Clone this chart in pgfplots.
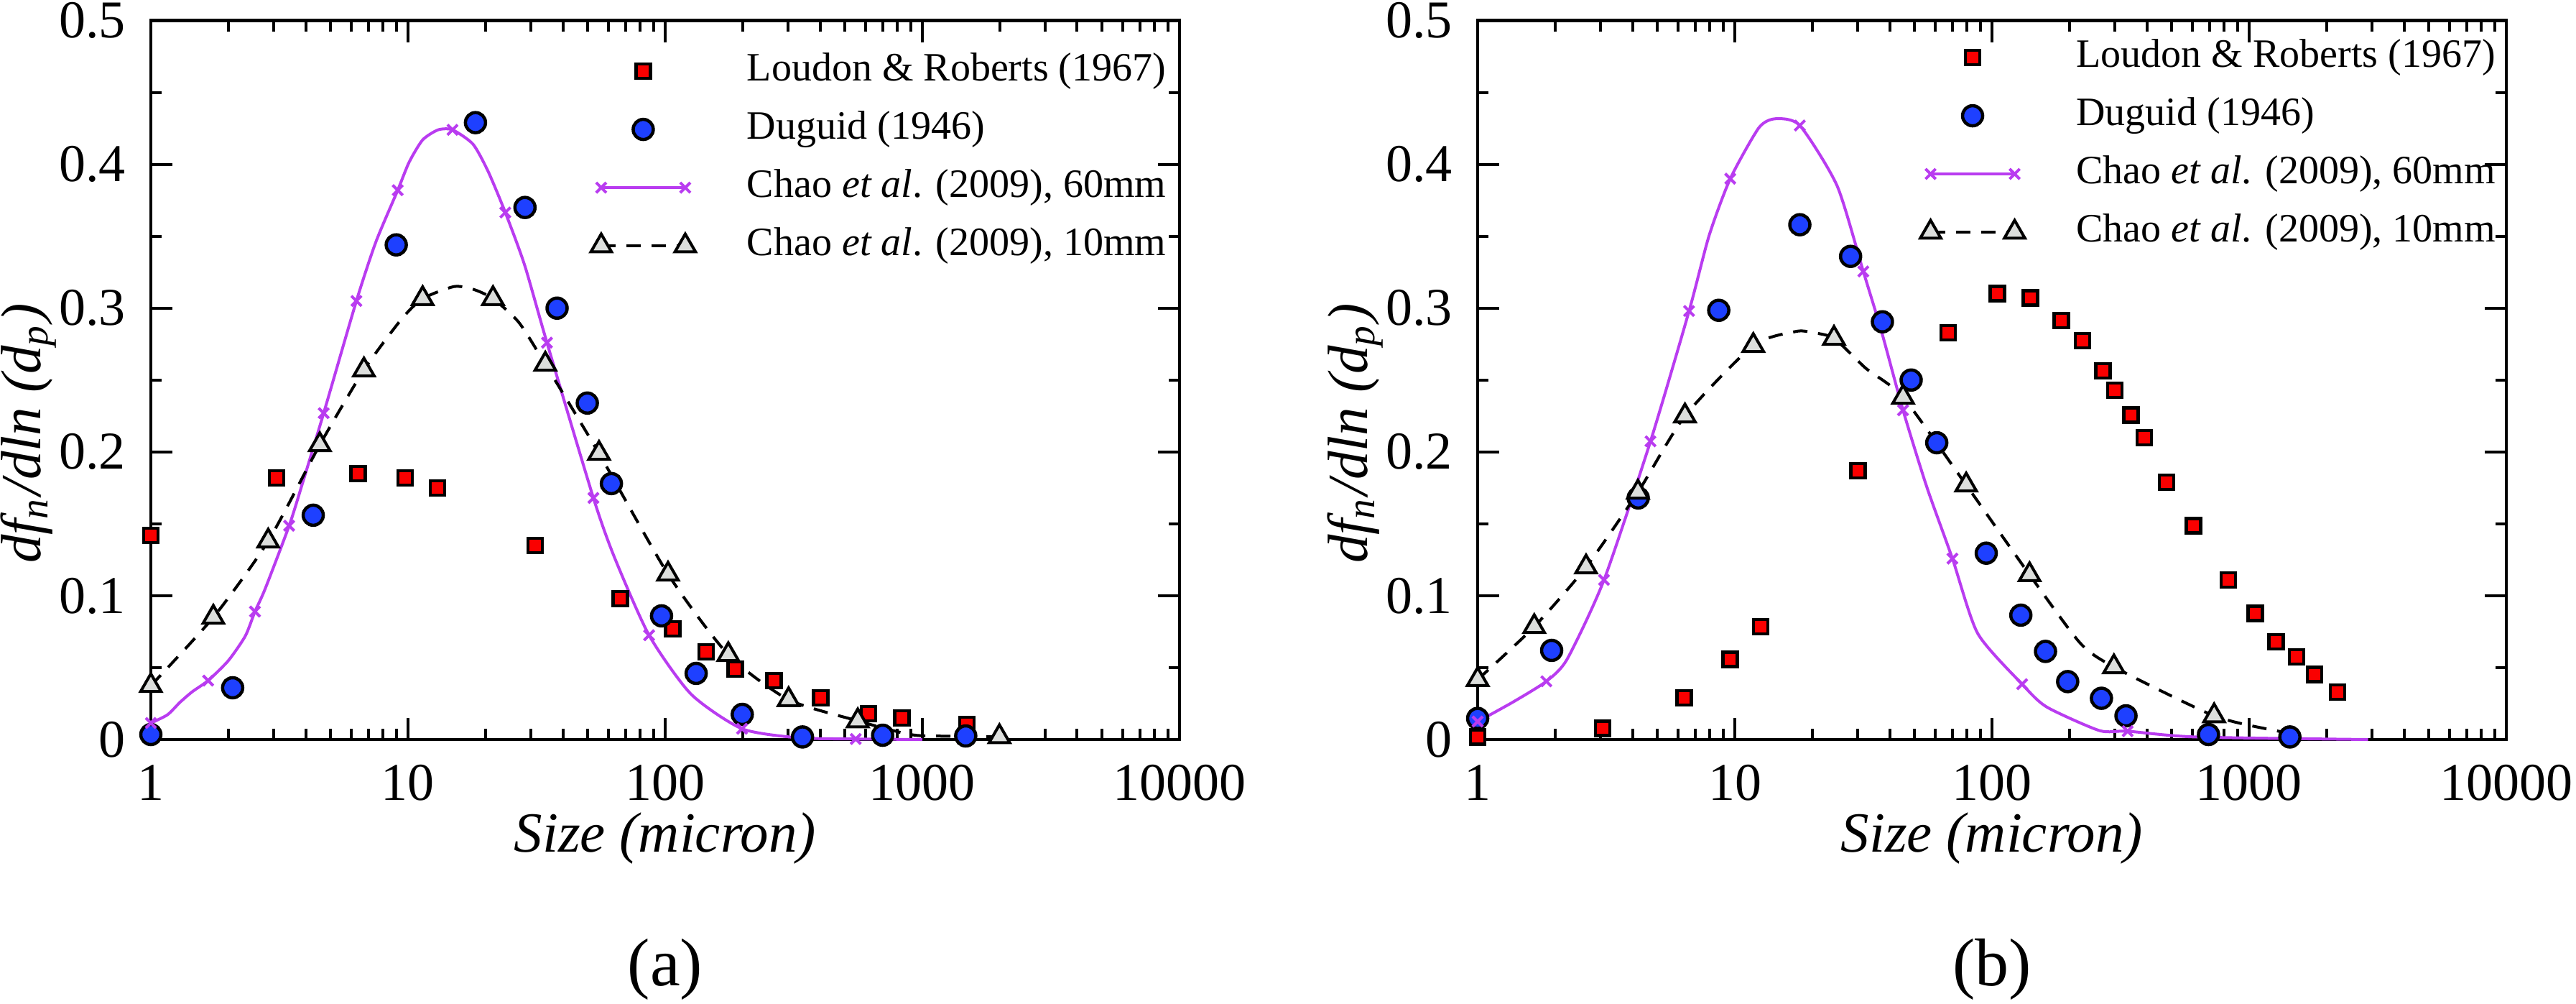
\documentclass[border=0pt]{standalone}
\usepackage{fontspec}
\setmainfont{Liberation Serif}
\newfontfamily\tms{Liberation Serif}
\usepackage{pgfplots}
\pgfplotsset{compat=1.18}
\definecolor{mred}{RGB}{250,0,0}
\definecolor{mblue}{RGB}{30,64,255}
\definecolor{mpurple}{RGB}{185,60,240}
\definecolor{mgrey}{RGB}{220,222,220}

\begin{document}
\begin{tikzpicture}
% ---------------- (a) ----------------
\begin{semilogxaxis}[at={(21.0pt,36.7pt)}, anchor=south west,
  scale only axis, width=143.2pt, height=100.05pt,
  xmin=1, xmax=10000, ymin=0, ymax=0.5,
  xtick={1,10,100,1000,10000}, xticklabels={1,10,100,1000,10000},
  ytick={0,0.1,0.2,0.3,0.4,0.5}, yticklabels={0,0.1,0.2,0.3,0.4,0.5},
  minor ytick={0.05,0.15,0.25,0.35,0.45},
  tick align=inside,
  major tick length=3pt, minor tick length=1.5pt,
  tick style={black, line width=0.4pt},
  axis line style={line width=0.45pt},
  xticklabel style={font=\tms\fontsize{7.4}{8}\selectfont},
  yticklabel style={font=\tms\fontsize{7.4}{8}\selectfont},
  xlabel style={font=\tms\fontsize{7.9}{9}\selectfont\itshape, at={(axis description cs:0.5,-0.137)}, anchor=center},
  ylabel style={font=\tms\fontsize{7.9}{9}\selectfont\itshape, at={(axis description cs:-0.119,0.426)}, anchor=center},
  xlabel={Size (micron)},
  ylabel={df\textsubscript{n}/dln (d\textsubscript{p})},
  clip=false,
  legend cell align=left,
  legend style={draw=none, fill=none, inner sep=0pt, outer sep=0pt,
    font=\tms\fontsize{5.6}{6.5}\selectfont, row sep=2.9pt, column sep=6.95pt,
    nodes={inner sep=0pt, text height=3.9pt, text depth=1.3pt},
    at={(axis description cs:0.4263,0.9555)}, anchor=north west}]
\addplot[mpurple, line width=0.4pt, smooth, tension=0.4, no marks, forget plot] coordinates {(1,0.0115) (1.16,0.0172) (1.3,0.026) (1.45,0.0333) (1.67,0.041) (2.0,0.0548) (2.33,0.072) (2.54,0.089) (2.78,0.1046) (3.45,0.1487) (3.87,0.177) (4.7,0.227) (6.3,0.305) (7.5,0.346) (9.12,0.382) (10.1,0.4015) (11.4,0.417) (13.1,0.424) (14.9,0.424) (17.9,0.414) (20.5,0.395) (23.9,0.3665) (28.4,0.33) (34.7,0.276) (52.6,0.168) (63.4,0.127) (86.6,0.0725) (126,0.0316) (199,0.0075) (330,0.0012) (551,0.0004) (1000,0)};
\addplot[black, line width=0.4pt, dash pattern=on 2pt off 1.5pt, smooth, tension=0.4, no marks, forget plot] coordinates {(1,0.0375) (1.75,0.085) (2.86,0.138) (4.54,0.205) (6.74,0.257) (9.4,0.292) (11.4,0.3066) (15.1,0.315) (18,0.313) (21.4,0.3066) (27,0.29) (34.2,0.261) (55.3,0.199) (102.6,0.115) (176,0.059) (302,0.0277) (561,0.013) (787,0.0058) (988,0.0027) (1995,0.002)};
\addplot[only marks, mark=square*, mark size=1.0pt, mark options={fill=mred, draw=black, line width=0.45pt},
   legend image code/.code={\path[draw=none] (-1.65pt,0pt) (13.35pt,0pt); \draw[only marks, mark=square*, mark size=1.0pt, mark options={fill=mred, draw=black, line width=0.45pt}] plot coordinates {(5.85pt,0pt)};}]
   coordinates {(1,0.142) (3.08,0.182) (6.4,0.185) (9.75,0.182) (13.0,0.175) (31.2,0.135) (67,0.098) (107,0.077) (144.5,0.061) (187,0.049) (265,0.041) (403,0.029) (618,0.018) (832,0.015) (1490,0.0105)};
\addlegendentry{Loudon \& Roberts (1967)}
\addplot[only marks, mark=*, mark size=1.4pt, mark options={fill=mblue, draw=black, line width=0.45pt},
   legend image code/.code={\path[draw=none] (-1.65pt,0pt) (13.35pt,0pt); \draw[only marks, mark=*, mark size=1.4pt, mark options={fill=mblue, draw=black, line width=0.45pt}] plot coordinates {(5.85pt,0pt)};}]
   coordinates {(1,0.0035) (2.08,0.036) (4.28,0.156) (9.0,0.344) (18.3,0.429) (28.5,0.370) (38,0.300) (49.8,0.234) (61.8,0.178) (96.8,0.086) (132,0.046) (199.5,0.0175) (342,0.0018) (701,0.003) (1475,0.0025)};
\addlegendentry{Duguid (1946)}
\addplot[only marks, mark=x, mark size=1.0pt, mark options={draw=mpurple, line width=0.4pt},
   legend image code/.code={\path[draw=none] (-1.65pt,0pt) (13.35pt,0pt); \draw[mpurple, line width=0.4pt] (0pt,0pt) -- (11.7pt,0pt); \draw[only marks, mark=x, mark size=1.0pt, mark options={draw=mpurple, line width=0.4pt}] plot coordinates {(0pt,0pt) (11.7pt,0pt)};}]
   coordinates {(1,0.0115) (1.67,0.041) (2.54,0.089) (3.45,0.1487) (4.7,0.227) (6.3,0.305) (9.12,0.382) (14.9,0.424) (23.9,0.3665) (34.7,0.276) (52.6,0.168) (86.6,0.0725) (199,0.0075) (551,0.0004)};
\addlegendentry{Chao \textit{et al}. (2009), 60mm}
\addplot[only marks, mark=triangle*, mark size=1.65pt, mark options={fill=mgrey, draw=black, line width=0.4pt},
   legend image code/.code={\path[draw=none] (-1.65pt,0pt) (13.35pt,0pt); \draw[black, line width=0.4pt, dash pattern=on 2pt off 1.5pt] (0pt,0pt) -- (11.7pt,0pt); \draw[only marks, mark=triangle*, mark size=1.65pt, mark options={fill=mgrey, draw=black, line width=0.4pt}] plot coordinates {(0pt,0pt) (11.7pt,0pt)};}]
   coordinates {(1,0.0375) (1.75,0.085) (2.86,0.138) (4.54,0.205) (6.74,0.257) (11.4,0.3066) (21.4,0.3066) (34.2,0.261) (55.3,0.199) (102.6,0.115) (176,0.059) (302,0.0277) (561,0.013) (1995,0.002)};
\addlegendentry{Chao \textit{et al}. (2009), 10mm}
\node[font=\tms\fontsize{9.4}{11}\selectfont] at (rel axis cs:0.5,-0.32) {(a)};
\end{semilogxaxis}
% ---------------- (b) ----------------
\begin{semilogxaxis}[at={(205.7pt,36.7pt)}, anchor=south west,
  scale only axis, width=143.2pt, height=100.05pt,
  xmin=1, xmax=10000, ymin=0, ymax=0.5,
  xtick={1,10,100,1000,10000}, xticklabels={1,10,100,1000,10000},
  ytick={0,0.1,0.2,0.3,0.4,0.5}, yticklabels={0,0.1,0.2,0.3,0.4,0.5},
  minor ytick={0.05,0.15,0.25,0.35,0.45},
  tick align=inside,
  major tick length=3pt, minor tick length=1.5pt,
  tick style={black, line width=0.4pt},
  axis line style={line width=0.45pt},
  xticklabel style={font=\tms\fontsize{7.4}{8}\selectfont},
  yticklabel style={font=\tms\fontsize{7.4}{8}\selectfont},
  xlabel style={font=\tms\fontsize{7.9}{9}\selectfont\itshape, at={(axis description cs:0.5,-0.137)}, anchor=center},
  ylabel style={font=\tms\fontsize{7.9}{9}\selectfont\itshape, at={(axis description cs:-0.119,0.426)}, anchor=center},
  xlabel={Size (micron)},
  ylabel={df\textsubscript{n}/dln (d\textsubscript{p})},
  clip=false,
  legend cell align=left,
  legend style={draw=none, fill=none, inner sep=0pt, outer sep=0pt,
    font=\tms\fontsize{5.6}{6.5}\selectfont, row sep=2.9pt, column sep=6.95pt,
    nodes={inner sep=0pt, text height=3.9pt, text depth=1.3pt},
    at={(axis description cs:0.4288,0.9745)}, anchor=north west}]
\addplot[mpurple, line width=0.4pt, smooth, tension=0.4, no marks, forget plot] coordinates {(1,0.0125) (1.37,0.026) (1.85,0.0405) (2.23,0.056) (3.1,0.111) (4.7,0.2074) (6.64,0.298) (7.95,0.3506) (9.6,0.39) (12.4,0.4254) (14.4,0.4317) (17.9,0.427) (25,0.385) (31.6,0.3255) (37.3,0.283) (45.1,0.229) (55.7,0.176) (70.2,0.1258) (88,0.0738) (131,0.0385) (163,0.0227) (262,0.0062) (337,0.0058) (617,0.0018) (2900,0)};
\addplot[black, line width=0.4pt, dash pattern=on 2pt off 1.5pt, smooth, tension=0.4, no marks, forget plot] coordinates {(1,0.0417) (1.66,0.0785) (2.64,0.12) (4.2,0.172) (6.4,0.225) (11.8,0.274) (17.3,0.2838) (20,0.283) (24.3,0.279) (32.4,0.258) (45.1,0.238) (79.4,0.177) (140,0.1146) (220,0.0672) (298,0.0505) (731,0.0165) (1300,0.0058) (1440,0.005)};
\addplot[only marks, mark=square*, mark size=1.0pt, mark options={fill=mred, draw=black, line width=0.45pt},
   legend image code/.code={\path[draw=none] (-1.65pt,0pt) (13.35pt,0pt); \draw[only marks, mark=square*, mark size=1.0pt, mark options={fill=mred, draw=black, line width=0.45pt}] plot coordinates {(5.85pt,0pt)};}]
   coordinates {(1,0.0018) (3.06,0.0077) (6.35,0.029) (9.6,0.0557) (12.6,0.0785) (30.1,0.187) (67.6,0.283) (105,0.31) (141,0.307) (186,0.2915) (225,0.2775) (270,0.2565) (300,0.243) (347,0.2257) (391,0.21) (477,0.179) (608,0.1486) (829,0.111) (1057,0.0876) (1271,0.068) (1528,0.0575) (1796,0.0452) (2208,0.033)};
\addlegendentry{Loudon \& Roberts (1967)}
\addplot[only marks, mark=*, mark size=1.4pt, mark options={fill=mblue, draw=black, line width=0.45pt},
   legend image code/.code={\path[draw=none] (-1.65pt,0pt) (13.35pt,0pt); \draw[only marks, mark=*, mark size=1.4pt, mark options={fill=mblue, draw=black, line width=0.45pt}] plot coordinates {(5.85pt,0pt)};}]
   coordinates {(1,0.0147) (1.94,0.062) (4.21,0.168) (8.66,0.2985) (17.9,0.358) (28.2,0.336) (37.5,0.2905) (48.5,0.25) (61,0.2064) (95,0.1296) (129.5,0.0865) (161.5,0.0613) (197,0.0403) (266.5,0.0287) (332,0.0165) (695,0.0035) (1440,0.0018)};
\addlegendentry{Duguid (1946)}
\addplot[only marks, mark=x, mark size=1.0pt, mark options={draw=mpurple, line width=0.4pt},
   legend image code/.code={\path[draw=none] (-1.65pt,0pt) (13.35pt,0pt); \draw[mpurple, line width=0.4pt] (0pt,0pt) -- (11.7pt,0pt); \draw[only marks, mark=x, mark size=1.0pt, mark options={draw=mpurple, line width=0.4pt}] plot coordinates {(0pt,0pt) (11.7pt,0pt)};}]
   coordinates {(1,0.0125) (1.85,0.0405) (3.1,0.111) (4.7,0.2074) (6.64,0.298) (9.6,0.39) (17.9,0.427) (31.6,0.3255) (45.1,0.229) (70.2,0.1258) (131,0.0385) (337,0.0058)};
\addlegendentry{Chao \textit{et al}. (2009), 60mm}
\addplot[only marks, mark=triangle*, mark size=1.65pt, mark options={fill=mgrey, draw=black, line width=0.4pt},
   legend image code/.code={\path[draw=none] (-1.65pt,0pt) (13.35pt,0pt); \draw[black, line width=0.4pt, dash pattern=on 2pt off 1.5pt] (0pt,0pt) -- (11.7pt,0pt); \draw[only marks, mark=triangle*, mark size=1.65pt, mark options={fill=mgrey, draw=black, line width=0.4pt}] plot coordinates {(0pt,0pt) (11.7pt,0pt)};}]
   coordinates {(1,0.0417) (1.66,0.0785) (2.64,0.12) (4.2,0.172) (6.4,0.225) (11.8,0.274) (24.3,0.279) (45.1,0.238) (79.4,0.177) (140,0.1146) (298,0.0505) (731,0.0165)};
\addlegendentry{Chao \textit{et al}. (2009), 10mm}
\node[font=\tms\fontsize{9.4}{11}\selectfont] at (rel axis cs:0.5,-0.32) {(b)};
\end{semilogxaxis}
\pgfresetboundingbox
\useasboundingbox (0,0) rectangle (358.6pt,139.6pt);
\end{tikzpicture}
\end{document}
